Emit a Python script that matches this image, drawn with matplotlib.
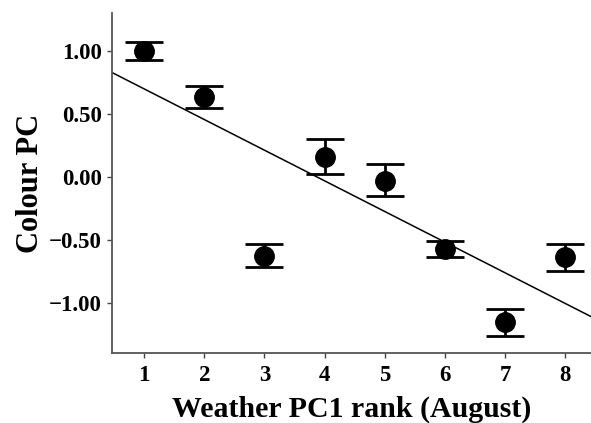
import numpy as np
import matplotlib
matplotlib.use("Agg")
import matplotlib.pyplot as plt

# Mean colour PC per weather rank, with error bar ends
rank = [1, 2, 3, 4, 5, 6, 7, 8]
colour_pc = [1.00, 0.635, -0.625, 0.16, -0.03, -0.575, -1.155, -0.635]
err_upper = [1.07, 0.72, -0.535, 0.30, 0.10, -0.51, -1.05, -0.535]
err_lower = [0.93, 0.55, -0.715, 0.02, -0.155, -0.64, -1.265, -0.745]

plt.rcParams['font.family'] = ['Liberation Serif', 'DejaVu Serif']
plt.rcParams['font.weight'] = 'bold'

x = np.array(rank)
y = np.array(colour_pc)
yerr = [y - np.array(err_lower), np.array(err_upper) - y]

fig = plt.figure(figsize=(5.91, 4.23), dpi=100)
ax = fig.add_axes([0.19, 0.165, 0.81, 0.804])

ax.errorbar(x, y, yerr=yerr, fmt='o', color='black', markersize=14,
            elinewidth=2, capsize=14, capthick=2, zorder=3)

# Least squares line over the full axis range
slope, intercept = np.polyfit(x, y, 1)
xs = np.array([0.47, 8.43])
ax.plot(xs, slope * xs + intercept, color='black', linewidth=1.1)

ax.set_xlim(0.47, 8.43)
ax.set_ylim(-1.40, 1.30)
ax.set_xticks(rank)
ax.set_yticks([1.0, 0.5, 0.0, -0.5, -1.0])
ax.set_yticklabels(['1.00', '0.50', '0.00', '\u22120.50', '\u22121.00'])

for side in ['top', 'right']:
    ax.spines[side].set_visible(False)
for side in ['left', 'bottom']:
    ax.spines[side].set_color('#555555')
    ax.spines[side].set_linewidth(1.3)

ax.tick_params(axis='both', labelsize=16.5, length=3.5, width=1, color='#444444')
ax.tick_params(axis='y', pad=4)
ax.tick_params(axis='x', pad=5)
for lab in ax.get_xticklabels() + ax.get_yticklabels():
    lab.set_fontweight('bold')

ax.set_xlabel("Weather PC1 rank (August)", fontsize=21.5, fontweight='bold', labelpad=7)
ax.set_ylabel("Colour PC", fontsize=22, fontweight='bold', labelpad=3)

plt.savefig("out.png", dpi=100)
